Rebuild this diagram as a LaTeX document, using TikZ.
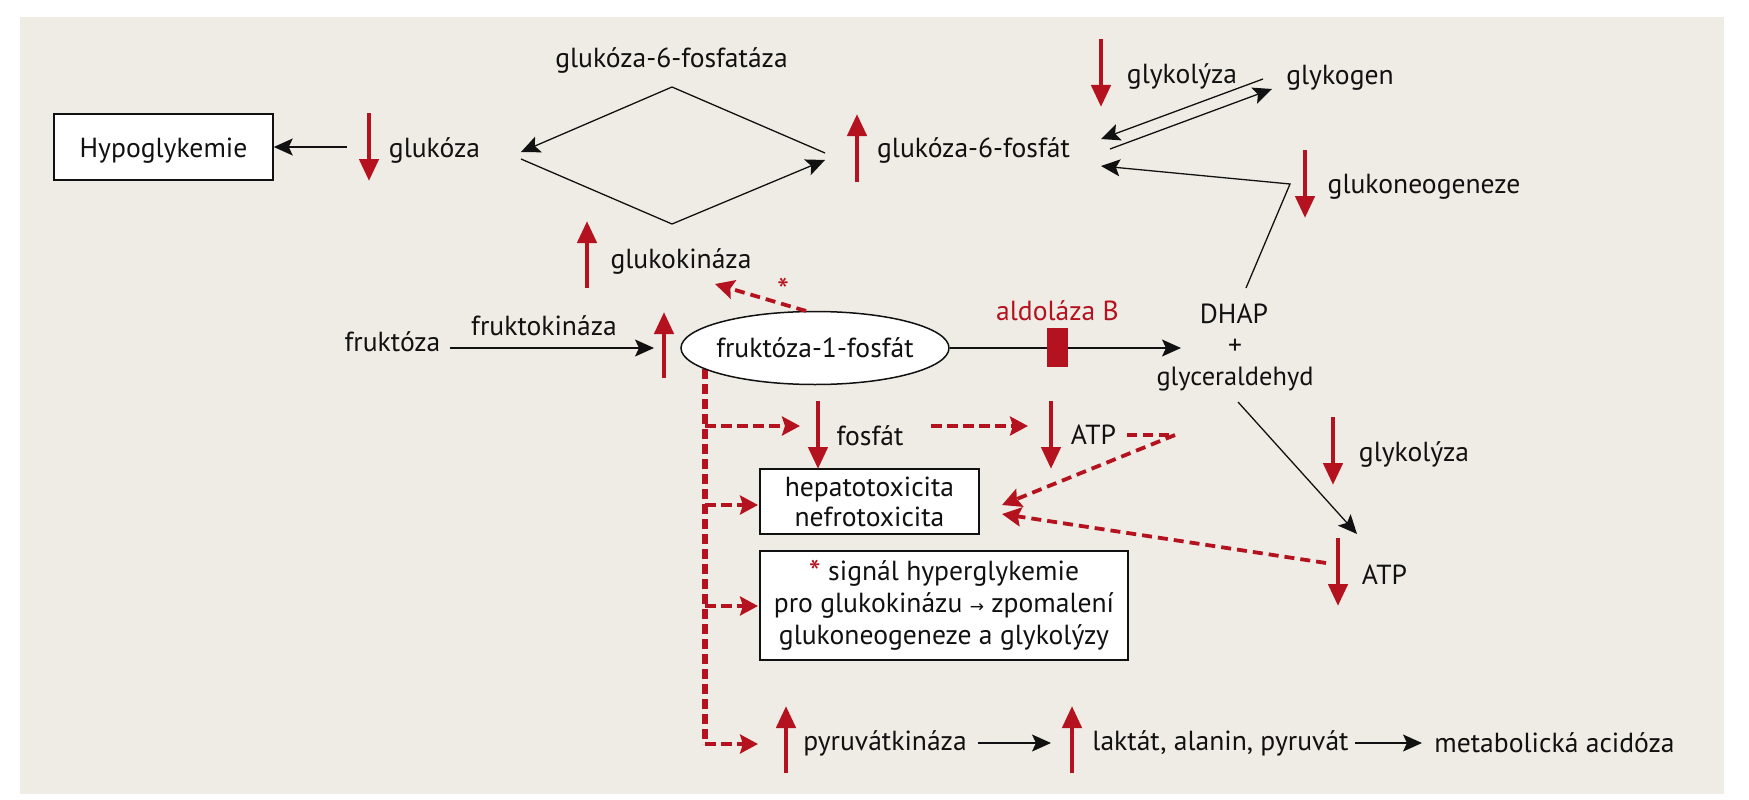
\documentclass[tikz,border=0pt]{standalone}
\usepackage{fontspec}
\setmainfont{PT Sans}
\newfontfamily\symfont{DejaVu Sans}
\usetikzlibrary{arrows.meta,shapes.geometric}
\definecolor{paper}{HTML}{EFECE5}
\definecolor{redm}{HTML}{B5121F}
\definecolor{ink}{HTML}{111111}
\tikzset{
  lbl/.style={inner sep=0pt,text=ink,font=\fontsize{27.6}{32}\selectfont,align=center},
  boxed/.style={lbl,draw=ink,line width=1.5pt,fill=white},
  flow/.style={draw=ink,line width=1.3pt,-{Stealth[length=19pt,width=17pt,inset=4pt]}},
  updown/.style={draw=redm,line width=4.6pt,-{Triangle[length=22pt,width=19pt]},shorten >=-1pt},
  rdash/.style={draw=redm,line width=4.4pt,dash pattern=on 11pt off 5pt},
  rdashtip/.style={rdash,-{Stealth[length=18pt,width=19pt,inset=3pt]}},
  rdthin/.style={draw=redm,line width=3.8pt,dash pattern=on 10pt off 6pt},
  rdthintip/.style={rdthin,-{Stealth[length=19pt,width=19pt,inset=3pt]}},
}
\begin{document}
\begin{tikzpicture}[x=1pt,y=-1pt]
\useasboundingbox (0,0) rectangle (1749,800);
\fill[white] (0,0) rectangle (1749,800);
\fill[paper] (20,17) rectangle (1724,794);

% nodes
\node[boxed,minimum width=219pt,minimum height=66pt,text height=24pt,text depth=4pt] (hypo) at (163.5,147) {Hypoglykemie};
\node[lbl] (gluk) at (434.5,150) {glukóza};
\node[lbl] (g6pase) at (671.5,60) {glukóza-6-fosfatáza};
\node[lbl] (g6p) at (973.5,150) {glukóza-6-fosfát};
\node[lbl] (glkin) at (681,261) {glukokináza};
\node[lbl] (fru) at (392.5,342) {fruktóza};
\node[lbl] (frukin) at (544,326) {fruktokináza};
\coordinate (v0) at (705,369);
\coordinate (v4) at (705,744);
\draw[rdash,line width=5.6pt,dash pattern=on 10pt off 5pt] (v0) -- (v4);
\node[ellipse,draw=ink,line width=1.5pt,fill=white,minimum width=268pt,minimum height=73pt,inner sep=0pt] (f1p) at (815,348) {};
\node[lbl] (f1ptext) at (f1p.center) {fruktóza-1-fosfát};
\node[lbl] (glyk) at (1182,76) {glykolýza};
\node[lbl] (glykogen) at (1340,78) {glykogen};
\node[lbl] (gneo) at (1424,187) {glukoneogeneze};
\node[lbl,text=redm] (aldo) at (1057.5,311) {aldoláza B};
\node[lbl] (dhap) at (1234,314) {DHAP};
\node[lbl] (plus) at (1235,347) {+};
\node[lbl,font=\fontsize{26.4}{32}\selectfont] (gald) at (1235,379) {glyceraldehyd};
\node[lbl] (fos) at (870,436) {fosfát};
\node[lbl] (atp1) at (1093.5,435) {ATP};
\node[boxed,minimum width=219pt,minimum height=65pt,font=\fontsize{27.6}{30}\selectfont] (hep) at (869.5,501.5) {hepatotoxicita\\nefrotoxicita};
\node[boxed,minimum width=368pt,minimum height=109pt] (sig) at (944,605.5) {{\color{redm}\fontsize{34}{32}\selectfont\raisebox{-4pt}{*}} signál hyperglykemie\\pro glukokinázu {\symfont\fontsize{17}{17}\selectfont →} zpomalení\\glukoneogeneze a glykolýzy};
\node[lbl] (gly2) at (1414,454) {glykolýza};
\node[lbl] (atp2) at (1384.5,575) {ATP};
\node[lbl] (pyrk) at (885,743) {pyruvátkináza};
\node[lbl] (lak) at (1220.5,743) {laktát, alanin, pyruvát};
\node[lbl] (acid) at (1554.5,743) {metabolická acidóza};
\node[lbl,text=redm,font=\fontsize{34}{34}\selectfont] (star) at (783,290) {*};

% junction coordinates
\coordinate (a1) at (347,147);
\coordinate (d1) at (521,152);
\coordinate (dt) at (672,87);
\coordinate (d2) at (825,153);
\coordinate (d3) at (521,159);
\coordinate (db) at (672,224);
\coordinate (d4) at (825,160);
\coordinate (fa) at (450,348);
\coordinate (fb) at (654,348);
\coordinate (gb) at (1263,79);
\coordinate (ga) at (1101,139);
\coordinate (gc) at (1110,149);
\coordinate (gd) at (1272,89);
\coordinate (na) at (1246,288);
\coordinate (nb) at (1290,184);
\coordinate (nc) at (1101,166);
\coordinate (ab) at (1181,348);
\coordinate (ga1) at (1238,402);
\coordinate (ga2) at (1357,534);
\coordinate (p1) at (978,743);
\coordinate (p2) at (1051,743);
\coordinate (l1) at (1355,743);
\coordinate (l2) at (1422,743);

% red level arrows
\foreach \n/\x/\a/\b in {r1/369/113/180, r2/1101/39/106, r3/1305/150/217, r4/818/401/468, r5/1051/401/468, r6/1333/417/484, r7/1338/538/605}{
  \coordinate (\n a) at (\x,\a);
  \coordinate (\n b) at (\x,\b);
  \draw[updown] (\n a) -- (\n b);
}
\foreach \n/\x/\a/\b in {u1/857/182/115, u2/587/288/222, u3/664/378/313, u4/786/773/707, u5/1072/773/707}{
  \coordinate (\n a) at (\x,\a);
  \coordinate (\n b) at (\x,\b);
  \draw[updown] (\n a) -- (\n b);
}

% black connectors
\draw[flow] (a1) -- (hypo.east);
\draw[flow] (d2) -- (dt) -- (d1);
\draw[flow] (d3) -- (db) -- (d4);
\draw[flow] (fa) -- (fb);
\draw[flow] (gb) -- (ga);
\draw[flow] (gc) -- (gd);
\draw[flow] (na) -- (nb) -- (nc);
\draw[flow] (f1p.east) -- (ab);
\draw[flow] (ga1) -- (ga2);
\draw[flow] (p1) -- (p2);
\draw[flow] (l1) -- (l2);
\node[fill=redm,minimum width=21pt,minimum height=39pt,inner sep=0pt] (blk) at (1057.5,347.5) {};

% red dashed connectors
\coordinate (v1) at (705,426);
\coordinate (v2) at (705,505);
\coordinate (v3) at (705,606);
\coordinate (t1) at (800,426);
\coordinate (t2) at (758,505);
\coordinate (t3) at (758,606);
\coordinate (t4) at (758,744);
\draw[rdashtip] (v1) -- (t1);
\draw[rdashtip] (v2) -- (t2);
\draw[rdashtip] (v3) -- (t3);
\draw[rdashtip] (v4) -- (t4);
\coordinate (k1) at (806,311);
\coordinate (k2) at (715,284);
\draw[rdthintip] (k1) -- (k2);
\coordinate (s1) at (931,426);
\coordinate (s2) at (1028,426);
\draw[rdashtip] (s1) -- (s2);
\coordinate (q0) at (1127,435);
\coordinate (q1) at (1175,435);
\coordinate (q2) at (1002,505);
\coordinate (q3) at (1326,563);
\coordinate (q4) at (1002,514);
\draw[rdthin] (q0) -- (q1);
\draw[rdthintip] (q1) -- (q2);
\draw[rdthintip] (q3) -- (q4);
\end{tikzpicture}
\end{document}
